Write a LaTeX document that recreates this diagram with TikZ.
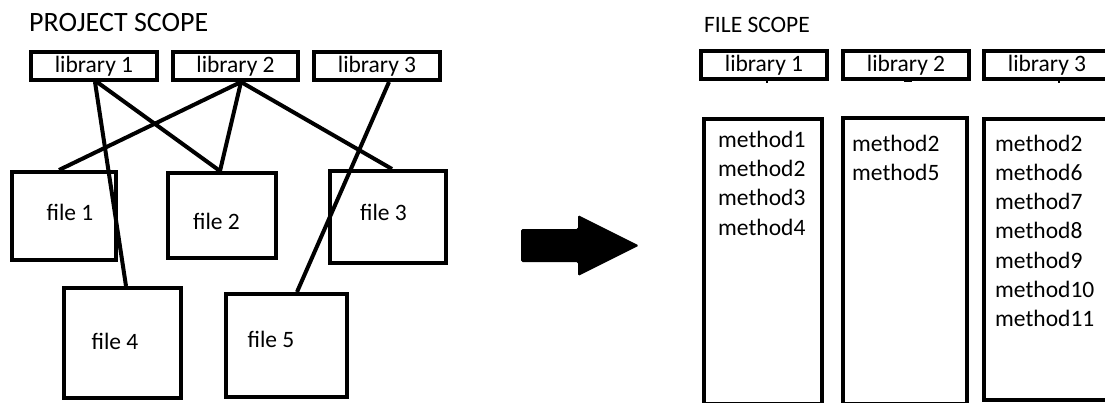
\documentclass[tikz,border=0pt]{standalone}
\usepackage{fontspec}
\setmainfont{Carlito}
\usetikzlibrary{calc}

\tikzset{
  box/.style={draw=black, line width=4pt, fill=white, inner sep=0pt},
  libbox/.style={box, minimum width=126pt, minimum height=28pt,
    font=\fontsize{23.5}{28}\selectfont},
  label/.style={inner sep=0pt, anchor=base, font=\fontsize{23.5}{28}\selectfont},
  methodtext/.style={inner sep=0pt, anchor=base west, font=\fontsize{23.5}{28}\selectfont},
  title/.style={inner sep=0pt, anchor=base west},
  link/.style={draw=black, line width=4pt},
  stub/.style={draw=black, line width=2.5pt},
}

\begin{document}
\begin{tikzpicture}[x=1pt, y=-1pt]
\useasboundingbox (0,0) rectangle (1105,402);
\clip (0,0) rectangle (1105,402);

% ---------- project scope ----------
\node[title, font=\fontsize{28}{32}\selectfont] (ptitle) at (29,31) {PROJECT SCOPE};

\node[libbox] (lib1) at (94,66)    {library 1};
\node[libbox, minimum width=125pt] (lib2) at (235.5,66) {library 2};
\node[libbox] (lib3) at (377,66)   {library 3};

\node[box, minimum width=104pt, minimum height=88pt]  (file1) at (64,216)     {};
\node[box, minimum width=108pt, minimum height=85pt]  (file2) at (222,215.5)  {};
\node[box, minimum width=116pt, minimum height=92pt]  (file3) at (388,217)    {};
\node[box, minimum width=117pt, minimum height=110pt] (file4) at (122.5,343)  {};
\node[box, minimum width=121pt, minimum height=103pt] (file5) at (286.5,345.5){};

\node[label] (t1) at (70,220)    {file 1};
\node[label] (t2) at (216.5,229) {file 2};
\node[label] (t3) at (383.5,220) {file 3};
\node[label] (t4) at (115,349)   {file 4};
\node[label] (t5) at (271,347)   {file 5};

% library-to-file links
\draw[link] ([xshift=1pt]lib1.south)    -- ([xshift=3.5pt]file4.north);
\draw[link] ([xshift=3pt]lib1.south)    -- ([xshift=-2pt]file2.north);
\draw[link] ([xshift=5.5pt]lib2.south)  -- ([xshift=-5pt]file1.north);
\draw[link] ([xshift=5.5pt]lib2.south)  -- ([xshift=-2pt]file2.north);
\draw[link] ([xshift=5.5pt]lib2.south)  -- ([xshift=4pt]file3.north);
\draw[link] ([xshift=12pt]lib3.south)   -- ([xshift=10.5pt]file5.north);

% ---------- transition arrow ----------
\fill[black, rounded corners=1.5pt]
  (521,229) -- (578,229) -- (578,215) -- (639,245.5) -- (578,276)
  -- (578,262) -- (521,262) -- cycle;

% ---------- file scope ----------
\node[title, font=\fontsize{23.5}{28}\selectfont] (ftitle) at (704,32) {FILE SCOPE};

\node[libbox] (rlib1) at (764,65)  {library 1};
\node[libbox] (rlib2) at (906,65)  {library 2};
\node[libbox] (rlib3) at (1047,65) {library 3};

\coordinate (s1) at ([xshift=3pt,yshift=-2pt]rlib1.south);
\coordinate (s2) at ([xshift=2pt,yshift=-2pt]rlib2.south);
\coordinate (s3) at ([xshift=12pt,yshift=-2pt]rlib3.south);
\draw[stub] ([yshift=2pt]s1) -- (s1);
\draw[stub] ([xshift=-4pt,yshift=2pt]s2) -- ([xshift=4pt,yshift=2pt]s2);
\draw[stub] ([yshift=2pt]s3) -- (s3);

\node[box, minimum width=118pt, minimum height=285pt] (col1) at (763,261.5)  {};
\node[box, minimum width=124pt, minimum height=286pt] (col2) at (905,261)    {};
\node[box, minimum width=125pt, minimum height=281pt] (col3) at (1046.5,259.5) {};

\foreach \m [count=\i from 0] in {method1,method2,method3,method4}
  \node[methodtext] (a\i) at (718,147+29.4*\i) {\m};
\foreach \m [count=\i from 0] in {method2,method5}
  \node[methodtext] (b\i) at (852,151+29.4*\i) {\m};
\foreach \m [count=\i from 0] in {method2,method6,method7,method8,method9,method10,method11}
  \node[methodtext] (c\i) at (995,151+29.3*\i) {\m};
\end{tikzpicture}
\end{document}
